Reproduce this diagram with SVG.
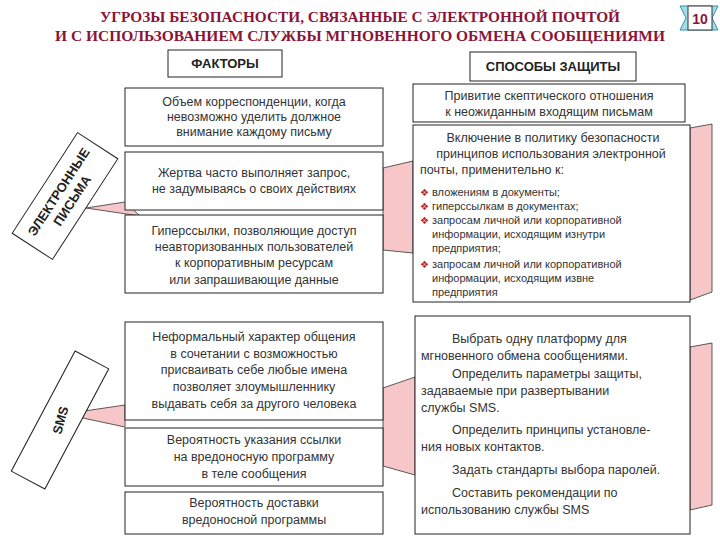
<svg xmlns="http://www.w3.org/2000/svg" width="720" height="540" viewBox="0 0 720 540">
<style>
.b{fill:#fff;stroke:#222;stroke-width:1}
.t{font-family:"Liberation Sans",Arial,sans-serif;font-size:12.5px;fill:#333;text-anchor:middle}
.s{font-family:"Liberation Sans",Arial,sans-serif;font-size:11px;fill:#333}
.l{font-family:"Liberation Sans",Arial,sans-serif;font-size:12.5px;fill:#333}
.h{font-family:"Liberation Sans",Arial,sans-serif;font-size:13px;font-weight:bold;fill:#222;text-anchor:middle}
.ti{font-family:"Liberation Serif","Times New Roman",serif;font-size:15px;font-weight:bold;fill:#8b1538;text-anchor:middle}
.p{fill:#f7c6c8;stroke:#333;stroke-width:0.8}
.d{fill:#c4142c;font-family:"DejaVu Sans",sans-serif;font-size:10px}
</style>
<rect width="720" height="540" fill="#fff"/>
<g id="title">
<text class="ti" x="360" y="22" textLength="520" lengthAdjust="spacingAndGlyphs">УГРОЗЫ БЕЗОПАСНОСТИ, СВЯЗАННЫЕ С ЭЛЕКТРОННОЙ ПОЧТОЙ</text>
<text class="ti" x="360" y="41" textLength="610" lengthAdjust="spacingAndGlyphs">И С ИСПОЛЬЗОВАНИЕМ СЛУЖБЫ МГНОВЕННОГО ОБМЕНА СООБЩЕНИЯМИ</text>
</g>
<g id="badge">
<polygon points="680,6 718,6 712,18 718,30 680,30 686,18" fill="#9fdde8" stroke="#3a8fa8"/>
<rect x="688" y="6" width="24" height="24" fill="#fff" stroke="#333"/>
<text x="700" y="24" style="font-family:'Liberation Sans',sans-serif;font-size:14px;font-weight:bold;fill:#8b1538;text-anchor:middle">10</text>
</g>
<g id="connectors">
<polygon class="p" points="383,168 413,161 413,253 383,250"/>
<polygon class="p" points="690,128 712,124 712,292 690,300"/>
<polygon class="p" points="86,208 125,202 140,216"/>
<polygon class="p" points="383,388 415,377 415,475 383,466"/>
<polygon class="p" points="690,347 712,343 712,505 690,510"/>
<polygon class="p" points="64,414 125,405 125,427"/>
</g>
<g id="h-factors"><rect class="b" x="168" y="50" width="114" height="27"/><text class="h" x="225" y="68">ФАКТОРЫ</text></g>
<g id="h-methods"><rect class="b" x="470" y="52" width="166" height="29"/><text class="h" x="553" y="71">СПОСОБЫ ЗАЩИТЫ</text></g>
<g id="email-label" transform="translate(65,196) rotate(-57)">
<rect class="b" x="-60" y="-24" width="120" height="48"/>
<text class="h" x="0" y="-3">ЭЛЕКТРОННЫЕ</text>
<text class="h" x="0" y="13">ПИСЬМА</text>
</g>
<g id="f1"><rect class="b" x="125" y="88" width="258" height="58"/>
<text class="t" x="254" y="106">Объем корреспонденции, когда</text><text class="t" x="254" y="121">невозможно уделить должное</text><text class="t" x="254" y="136">внимание каждому письму</text></g>
<g id="f2"><rect class="b" x="125" y="152" width="258" height="58"/>
<text class="t" x="254" y="177">Жертва часто выполняет запрос,</text><text class="t" x="254" y="193">не задумываясь о своих действиях</text></g>
<g id="f3"><rect class="b" x="125" y="215" width="258" height="78"/>
<text class="t" x="254" y="235">Гиперссылки, позволяющие доступ</text><text class="t" x="254" y="251">неавторизованных пользователей</text><text class="t" x="254" y="267">к корпоративным ресурсам</text><text class="t" x="254" y="284">или запрашивающие данные</text></g>
<g id="m1"><rect class="b" x="413" y="84" width="272" height="38"/>
<text class="t" x="549" y="100">Привитие скептического отношения</text><text class="t" x="549" y="116">к неожиданным входящим письмам</text></g>
<g id="m2"><rect class="b" x="413" y="125" width="277" height="177"/>
<text class="t" x="553" y="142">Включение в политику безопасности</text><text class="t" x="551" y="158">принципов использования электронной</text><text class="l" x="420" y="174">почты, применительно к:</text>
<text class="d" x="420" y="196">❖</text><text class="s" x="432" y="196">вложениям в документы;</text>
<text class="d" x="420" y="210">❖</text><text class="s" x="432" y="210">гиперссылкам в документах;</text>
<text class="d" x="420" y="224">❖</text><text class="s" x="432" y="224">запросам личной или корпоративной</text>
<text class="s" x="432" y="238">информации, исходящим изнутри</text><text class="s" x="432" y="252">предприятия;</text>
<text class="d" x="420" y="268">❖</text><text class="s" x="432" y="268">запросам личной или корпоративной</text>
<text class="s" x="432" y="282">информации, исходящим извне</text><text class="s" x="432" y="296">предприятия</text></g>
<g id="sms-label" transform="translate(60,420) rotate(-62)">
<rect class="b" x="-68" y="-19" width="136" height="38"/>
<text class="h" x="0" y="5" transform="rotate(-12)">SMS</text>
</g>
<g id="s1"><rect class="b" x="125" y="322" width="258" height="98"/>
<text class="t" x="254" y="341">Неформальный характер общения</text><text class="t" x="254" y="358">в сочетании с возможностью</text><text class="t" x="254" y="374">присваивать себе любые имена</text><text class="t" x="254" y="391">позволяет злоумышленнику</text><text class="t" x="254" y="408">выдавать себя за другого человека</text></g>
<g id="s2"><rect class="b" x="125" y="428" width="258" height="58"/>
<text class="t" x="254" y="444">Вероятность указания ссылки</text><text class="t" x="254" y="461">на вредоносную программу</text><text class="t" x="254" y="478">в теле сообщения</text></g>
<g id="s3"><rect class="b" x="125" y="492" width="258" height="42"/>
<text class="t" x="254" y="507">Вероятность доставки</text><text class="t" x="254" y="524">вредоносной программы</text></g>
<g id="m3"><rect class="b" x="415" y="316" width="275" height="218"/>
<text class="l" x="452" y="343">Выбрать одну платформу для</text><text class="l" x="421" y="360">мгновенного обмена сообщениями.</text>
<text class="l" x="452" y="378">Определить параметры защиты,</text><text class="l" x="421" y="395">задаваемые при развертывании</text><text class="l" x="421" y="412">службы SMS.</text>
<text class="l" x="452" y="434">Определить принципы установле-</text><text class="l" x="421" y="451">ния новых контактов.</text>
<text class="l" x="452" y="474">Задать стандарты выбора паролей.</text>
<text class="l" x="452" y="497">Составить рекомендации по</text><text class="l" x="421" y="514">использованию службы SMS</text></g>
</svg>
